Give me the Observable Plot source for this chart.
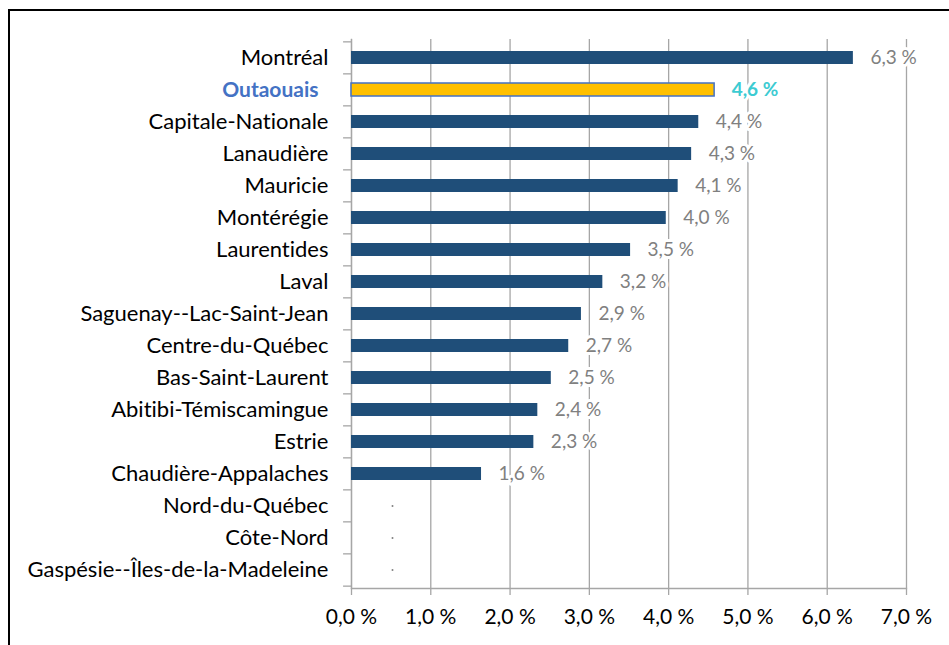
<!DOCTYPE html>
<html><head><meta charset="utf-8">
<script src="https://cdn.jsdelivr.net/npm/d3@7"></script>
<script src="https://cdn.jsdelivr.net/npm/@observablehq/plot@0.6"></script>
<style>
html,body{margin:0;padding:0;background:#fff;overflow:hidden;}
#wrap{position:relative;width:949px;height:645px;}
#border{position:absolute;left:8px;top:9px;width:960px;height:660px;border-left:2px solid #000;border-top:2px solid #000;pointer-events:none;}
svg text{font-variant-ligatures:none;font-feature-settings:"liga" 0;}
</style></head>
<body><div id="wrap"><div id="border"></div><div id="chart"></div></div>
<script>
const regions = ["Montréal","Outaouais","Capitale-Nationale","Lanaudière","Mauricie","Montérégie","Laurentides","Laval","Saguenay--Lac-Saint-Jean","Centre-du-Québec","Bas-Saint-Laurent","Abitibi-Témiscamingue","Estrie","Chaudière-Appalaches","Nord-du-Québec","Côte-Nord","Gaspésie--Îles-de-la-Madeleine"];
const values = [6.33,4.58,4.38,4.29,4.12,3.97,3.52,3.17,2.90,2.74,2.52,2.35,2.30,1.64,0,0,0];
const labels = ["6,3 %","4,6 %","4,4 %","4,3 %","4,1 %","4,0 %","3,5 %","3,2 %","2,9 %","2,7 %","2,5 %","2,4 %","2,3 %","1,6 %","","",""];
const xTicks = [0,1,2,3,4,5,6,7];
const highlight = "Outaouais";

const data = regions.map((r,i)=>({region:r, value:values[i], label:labels[i]}));
const shown = data.filter(d=>d.value>0);
const zeros = data.filter(d=>d.value===0);
const font = "Lato, 'Open Sans', sans-serif";
const H = 645, mt = 39, mb = 57;
const step = (H - mt - mb) / regions.length;
const grid = "#a6a6a6";

const chart = Plot.plot({
  width: 949, height: H,
  marginLeft: 351, marginRight: 43, marginTop: mt, marginBottom: mb,
  style: {fontFamily: font, background: "transparent"},
  x: {domain: [0,7]},
  y: {domain: regions, paddingInner: 0.6, paddingOuter: 0.3},
  marks: [
    Plot.gridX(xTicks, {stroke: grid, strokeOpacity: 1, strokeWidth: 1.3}),
    Plot.frame({anchor: "left", stroke: grid, strokeWidth: 1.3}),
    Plot.frame({anchor: "bottom", stroke: grid, strokeWidth: 1.3}),
    Plot.ruleY(regions, {y: d=>d, x1: -0.1, x2: 0, dy: -step/2, stroke: grid, strokeWidth: 1.3}),
    Plot.ruleY([regions[regions.length-1]], {y: d=>d, x1: -0.1, x2: 0, dy: step/2, stroke: grid, strokeWidth: 1.3}),
    Plot.barX(shown, {x: "value", y: "region",
      fill: d => d.region===highlight ? "#FFC000" : "#1F4E79",
      stroke: d => d.region===highlight ? "#4472C4" : "none", strokeWidth: 1.5}),
    Plot.text(shown.filter(d=>d.region!==highlight), {x: "value", y: "region", text: "label", dx: 17, textAnchor: "start",
      fill: "#808080", fontSize: 19, stroke: "white", strokeWidth: 6, paintOrder: "stroke"}),
    Plot.text(shown.filter(d=>d.region===highlight), {x: "value", y: "region", text: "label", dx: 17, textAnchor: "start",
      fill: "#3CCBD2", fontSize: 19, fontWeight: "bold", stroke: "white", strokeWidth: 6, paintOrder: "stroke"}),
    Plot.dot(zeros, {x: 0, y: "region", dx: 41, r: 1, fill: "#808080", stroke: "none"}),
    Plot.axisX({ticks: xTicks, tickSize: 7, tickPadding: 14, stroke: grid, strokeWidth: 1.3,
      tickFormat: d => d.toFixed(1).replace(".", ",") + " %", fontSize: 21, fill: "#000", label: null}),
    Plot.axisY(regions.filter(r=>r!==highlight), {tickSize: 0, tickPadding: 23, fontSize: 22, fill: "#000", label: null}),
    Plot.axisY([highlight], {tickSize: 0, tickPadding: 33, fontSize: 21, fontWeight: "bold", fill: "#4472C4", label: null})
  ]
});
document.getElementById("chart").appendChild(chart);
</script></body></html>
